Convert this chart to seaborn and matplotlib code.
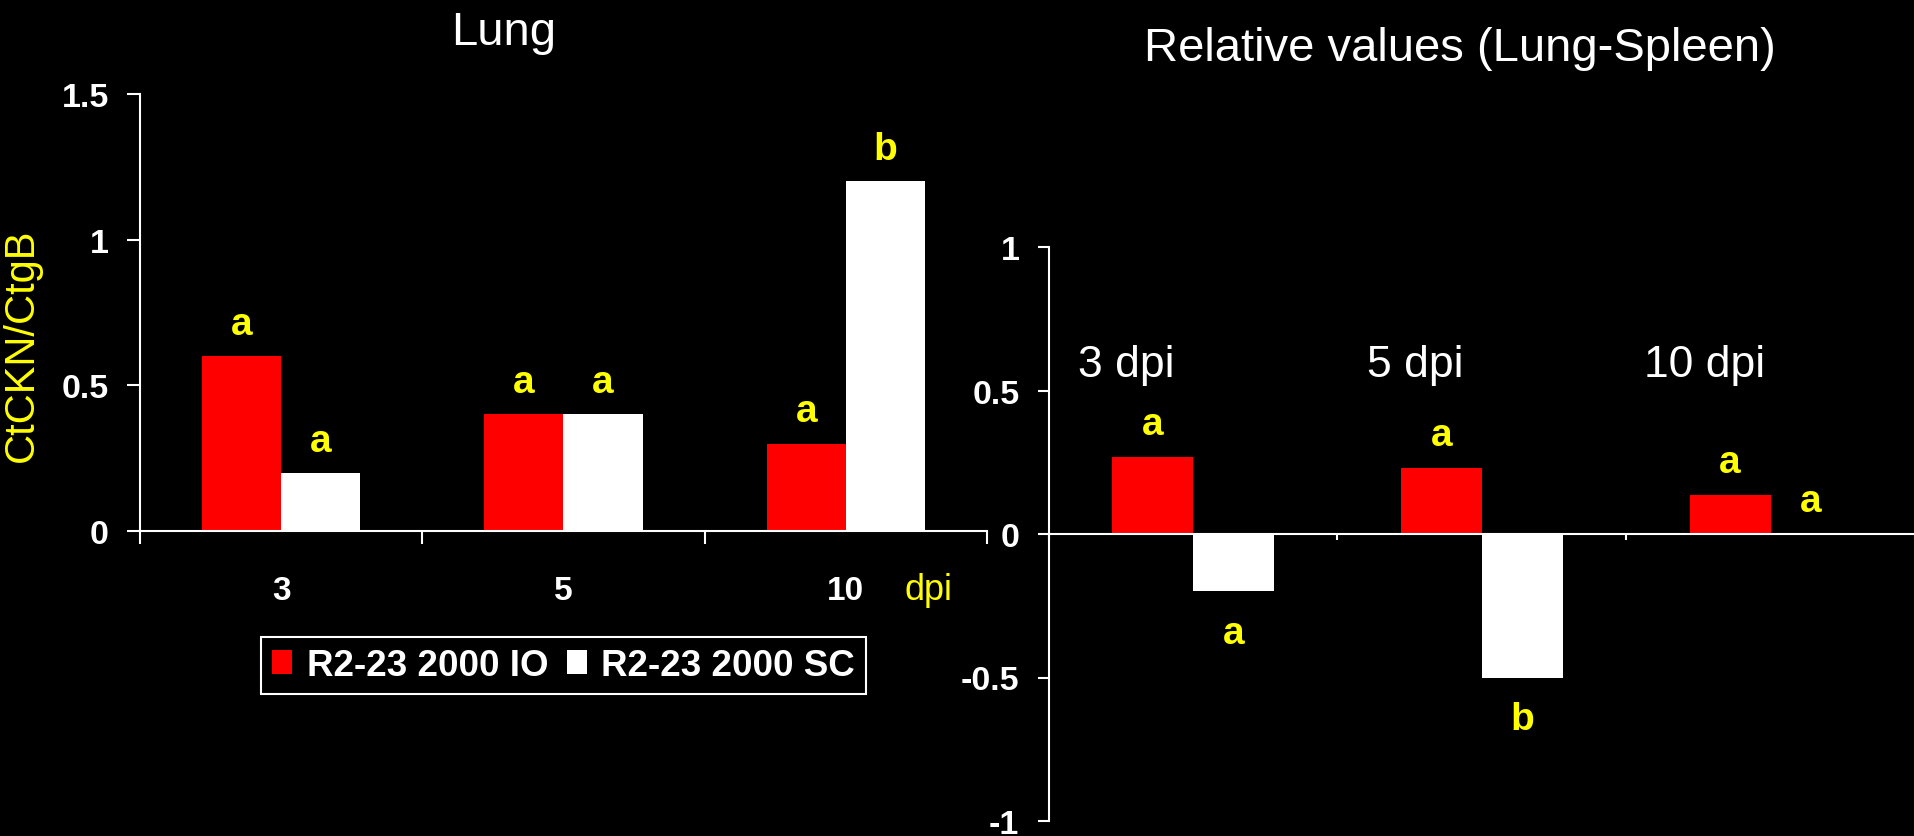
import pandas as pd
import seaborn as sns
import matplotlib.pyplot as plt

# Values
days = ['3', '5', '10']
series = ['R2-23 2000 IO', 'R2-23 2000 SC']
lung_io = [0.6, 0.4, 0.3]
lung_sc = [0.2, 0.4, 1.2]
rel_io = [0.27, 0.23, 0.135]
rel_sc = [-0.2, -0.5, 0.0]
lung_io_letters = ['a', 'a', 'a']
lung_sc_letters = ['a', 'a', 'b']
rel_io_letters = ['a', 'a', 'a']
rel_sc_letters = ['a', 'b', 'a']
lung_yticks = [0, 0.5, 1, 1.5]
lung_yticklabels = ['0', '0.5', '1', '1.5']
rel_yticks = [-1, -0.5, 0, 0.5, 1]
rel_yticklabels = ['-1', '-0.5', '0', '0.5', '1']
dpi_labels = ['3 dpi', '5 dpi', '10 dpi']

RED = '#ff0000'
WHITE = '#ffffff'
YELLOW = '#ffff00'
W, H = 1915, 837


def make_frame(io, sc):
    return pd.DataFrame({
        'day': days * 2,
        'series': [series[0]] * len(days) + [series[1]] * len(days),
        'value': io + sc,
    })


def style_axes(ax, ytick_len):
    ax.set_facecolor('black')
    for side in ['top', 'right']:
        ax.spines[side].set_visible(False)
    for side in ['left', 'bottom']:
        ax.spines[side].set_color(WHITE)
        ax.spines[side].set_linewidth(1.5)
    ax.tick_params(axis='y', colors=WHITE, length=ytick_len, width=1.5,
                   labelsize=24.5, pad=13)
    ax.set_xlabel('')
    ax.set_ylabel('')
    ax.set_xlim(-0.5, 2.5)


def add_letters(ax, io_letters, sc_letters, io_vals, sc_vals, up, down):
    for k, (letters, vals) in enumerate([(io_letters, io_vals), (sc_letters, sc_vals)]):
        for i, (lab, v) in enumerate(zip(letters, vals)):
            x = i + (-0.14 if k == 0 else 0.14)
            off = up if v >= 0 else -down
            ax.annotate(lab, (x, v), xytext=(0, off), textcoords='offset points',
                        ha='center', va='baseline', color=YELLOW,
                        fontsize=28, fontweight='bold')


sns.set_theme(style='ticks')
plt.rcParams['font.family'] = ['Liberation Sans', 'DejaVu Sans']

fig = plt.figure(figsize=(W / 100, H / 100), dpi=100, facecolor='black')

# Left panel: Lung
ax1 = fig.add_axes([140 / W, 1 - 532 / H, 847 / W, 437 / H])
sns.barplot(data=make_frame(lung_io, lung_sc), x='day', y='value', hue='series',
            order=days, hue_order=series, palette=[RED, WHITE], width=0.56,
            errorbar=None, linewidth=0, saturation=1, ax=ax1)
style_axes(ax1, 9.5)
ax1.set_ylim(0, 1.5)
ax1.set_yticks(lung_yticks)
ax1.set_yticklabels(lung_yticklabels, fontweight='bold')
ax1.set_xticks([0, 1, 2])
ax1.set_xticklabels(days, fontweight='bold')
ax1.set_xticks([-0.5, 0.5, 1.5, 2.5], minor=True)
ax1.tick_params(axis='x', which='major', length=0, pad=32, colors=WHITE, labelsize=24)
ax1.tick_params(axis='x', which='minor', length=9, width=1.5, color=WHITE)
add_letters(ax1, lung_io_letters, lung_sc_letters, lung_io, lung_sc, 16, 36)

handles, labels = ax1.get_legend_handles_labels()
ax1.legend_.remove()

# Right panel: relative values
ax2 = fig.add_axes([1048.6 / W, 1 - 822 / H, (W - 1048.6) / W, 574 / H])
sns.barplot(data=make_frame(rel_io, rel_sc), x='day', y='value', hue='series',
            order=days, hue_order=series, palette=[RED, WHITE], width=0.56,
            errorbar=None, linewidth=0, saturation=1, legend=False, ax=ax2)
style_axes(ax2, 8)
ax2.set_ylim(-1, 1)
ax2.set_yticks(rel_yticks)
ax2.set_yticklabels(rel_yticklabels, fontweight='bold')
ax2.spines['bottom'].set_position(('data', 0))
ax2.set_xticks([-0.5, 0.5, 1.5, 2.5])
ax2.set_xticklabels([])
ax2.tick_params(axis='x', length=4, width=1.5, color=WHITE)
add_letters(ax2, rel_io_letters, rel_sc_letters, rel_io, rel_sc, 16.5, 37)
for i, lab in enumerate(dpi_labels):
    ax2.text(i - 0.23, 0.55, lab, ha='center', va='baseline', color=WHITE, fontsize=32)

# Titles and axis texts
fig.text(504 / W, 1 - 45 / H, 'Lung', ha='center', va='baseline', color=WHITE, fontsize=34)
fig.text(1460 / W, 1 - 61 / H, 'Relative values (Lung-Spleen)', ha='center',
         va='baseline', color=WHITE, fontsize=34)
fig.text(22 / W, 1 - 345 / H, 'CtCKN/CtgB', rotation=90, ha='center', va='center',
         color=YELLOW, fontsize=30)
fig.text(928 / W, 1 - 591 / H, 'dpi', ha='center', va='center', color=YELLOW, fontsize=26)

leg = fig.legend(handles, labels, loc='upper left', bbox_to_anchor=(261 / W, 1 - 638 / H),
                 ncol=2, frameon=True, fancybox=False, edgecolor=WHITE, facecolor='black',
                 framealpha=1, prop={'size': 26.5, 'weight': 'bold'}, labelcolor=WHITE,
                 handlelength=0.55, handleheight=0.6, handletextpad=0.39,
                 columnspacing=0.5, borderpad=0.3, borderaxespad=0)
leg.get_frame().set_linewidth(1.5)

fig.savefig('out.png', dpi=100, facecolor='black')
